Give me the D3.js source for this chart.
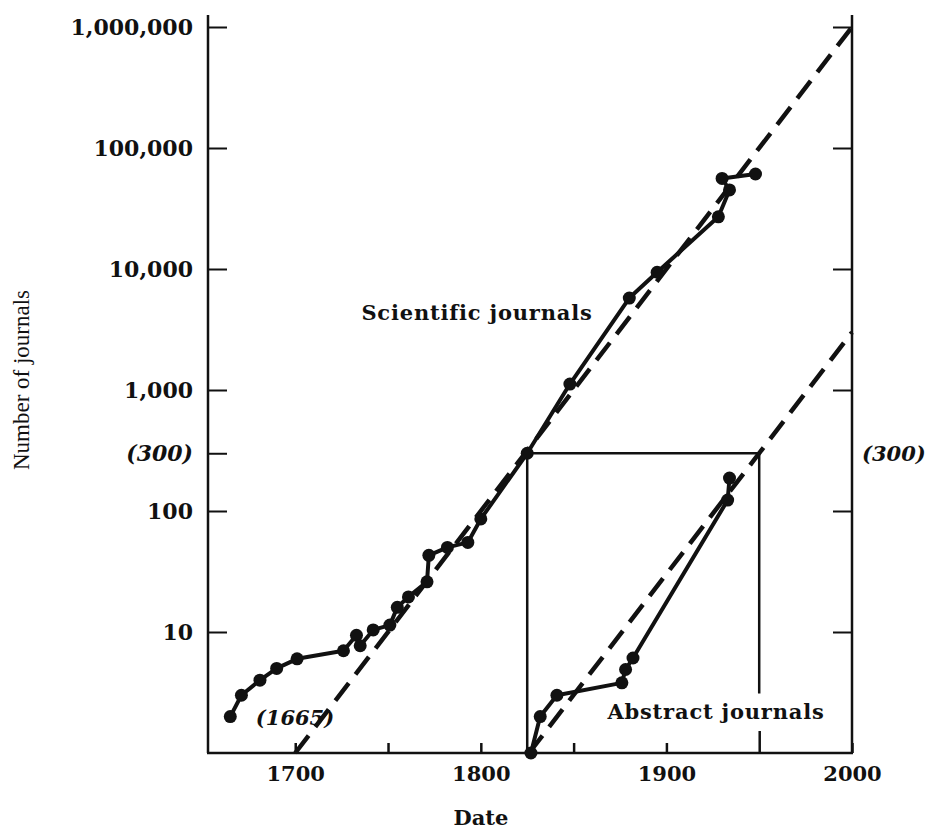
<!DOCTYPE html>
<html>
<head>
<meta charset="UTF-8" />
<title>Number of journals</title>
<script src="https://cdn.jsdelivr.net/npm/d3@7"></script>
<style>
  body { margin: 0; background: #fff; }
  text { font-family: "DejaVu Serif", serif; fill: #111; }
</style>
</head>
<body>
<svg id="chart"></svg>
<script>
// values
const sciYears  = [1665, 1671, 1681, 1690, 1701, 1726, 1733, 1735, 1742, 1751, 1755, 1761, 1771, 1772, 1782, 1793, 1800, 1825, 1848, 1880, 1895, 1928, 1934, 1930, 1948];
const sciCounts = [2, 3, 4, 5, 6, 7, 9.4, 7.7, 10.4, 11.4, 16, 19.5, 26, 43, 50, 55, 86, 300, 1120, 5750, 9400, 27000, 45000, 56000, 61000];

const absYears  = [1827, 1832, 1841, 1876, 1878, 1882, 1933, 1934];
const absCounts = [1, 2, 3, 3.8, 4.9, 6.1, 123, 187];

// dashed trend lines (end points)
const sciTrend = [[1700, 1], [2000, 1000000]];
const absTrend = [[1826, 1], [2000, 3000]];

// the 300 box
const boxPts = [[1825, 1], [1825, 300], [1950, 300], [1950, 3.1]];

const yTicks = [10, 100, 300, 1000, 10000, 100000, 1000000];
const yTickLabels = ["10", "100", "(300)", "1,000", "10,000", "100,000", "1,000,000"];
const xTicks = [1700, 1750, 1800, 1850, 1900, 1950, 2000];
const xTickLabels = ["1700", "", "1800", "", "1900", "", "2000"];

const width = 931, height = 829;
const svg = d3.select("#chart").attr("width", width).attr("height", height);

const x = d3.scaleLinear().domain([1653, 2000]).range([208, 852]);
const y = d3.scaleLog().domain([1, 1000000]).range([753, 27]);

// axis frame lines
svg.append("line").attr("x1", 208).attr("x2", 208).attr("y1", y(1)).attr("y2", 15)
   .attr("stroke", "#111").attr("stroke-width", 2.5);
svg.append("line").attr("x1", x(2000)).attr("x2", x(2000)).attr("y1", y(1)).attr("y2", 15)
   .attr("stroke", "#111").attr("stroke-width", 2.5);
svg.append("line").attr("x1", 207).attr("x2", x(2000) + 1).attr("y1", y(1)).attr("y2", y(1))
   .attr("stroke", "#111").attr("stroke-width", 2.5);

// left axis
const yAxis = svg.append("g")
  .attr("transform", "translate(208,0)")
  .call(d3.axisLeft(y).tickValues(yTicks)
        .tickFormat((d, i) => yTickLabels[i])
        .tickSizeInner(-19).tickSizeOuter(0).tickPadding(15));
yAxis.select(".domain").remove();
yAxis.selectAll("line").attr("stroke", "#111").attr("stroke-width", 2);
yAxis.selectAll("text")
  .style("font-size", "22px").style("font-weight", "bold")
  .style("font-style", d => d === 300 ? "italic" : "normal")
  .attr("fill", "#111");

// right axis
const yAxisR = svg.append("g")
  .attr("transform", "translate(" + x(2000) + ",0)")
  .call(d3.axisRight(y).tickValues(yTicks)
        .tickFormat(d => d === 300 ? "(300)" : "")
        .tickSizeInner(-19).tickSizeOuter(0).tickPadding(10));
yAxisR.select(".domain").remove();
yAxisR.selectAll(".tick line").attr("stroke", "#111").attr("stroke-width", 2)
  .attr("x2", d => d === 300 ? 0 : -19);
yAxisR.selectAll("text")
  .style("font-size", "21px").style("font-weight", "bold").style("font-style", "italic")
  .attr("fill", "#111");

// bottom axis
const xAxis = svg.append("g")
  .attr("transform", "translate(0," + y(1) + ")")
  .call(d3.axisBottom(x).tickValues(xTicks)
        .tickFormat((d, i) => xTickLabels[i])
        .tickSizeInner(-10).tickSizeOuter(0).tickPadding(13));
xAxis.select(".domain").remove();
xAxis.selectAll(".tick line").attr("stroke", "#111").attr("stroke-width", 2.5)
  .attr("y2", d => d === 1950 ? -22 : -10);
xAxis.selectAll("text")
  .style("font-size", "21px").style("font-weight", "bold").attr("fill", "#111");

// axis titles
svg.append("text")
  .attr("transform", "translate(29,380) rotate(-90)")
  .attr("text-anchor", "middle")
  .style("font-family", "'Liberation Serif', serif")
  .style("font-size", "23px")
  .text("Number of journals");

svg.append("text")
  .attr("x", 481).attr("y", 825)
  .attr("text-anchor", "middle")
  .style("font-size", "21px").style("font-weight", "bold")
  .text("Date");

// 300 box
const line = d3.line().x(d => x(d[0])).y(d => y(d[1]));
svg.append("path").datum(boxPts).attr("d", line)
  .attr("fill", "none").attr("stroke", "#111").attr("stroke-width", 2.5);

// dashed trends
[sciTrend, absTrend].forEach(t => {
  svg.append("path").datum(t).attr("d", line)
    .attr("fill", "none").attr("stroke", "#111")
    .attr("stroke-width", 4.5).attr("stroke-dasharray", "22,11");
});

// data series
function drawSeries(years, counts) {
  const pts = years.map((yr, i) => [yr, counts[i]]);
  svg.append("path").datum(pts).attr("d", line)
    .attr("fill", "none").attr("stroke", "#111").attr("stroke-width", 4)
    .attr("stroke-linejoin", "round");
  svg.append("g").selectAll("circle").data(pts).enter().append("circle")
    .attr("cx", d => x(d[0])).attr("cy", d => y(d[1])).attr("r", 6.5)
    .attr("fill", "#111");
}
drawSeries(sciYears, sciCounts);
drawSeries(absYears, absCounts);

// annotations
svg.append("text").attr("x", 477).attr("y", 320).attr("text-anchor", "middle")
  .style("font-size", "21px").style("font-weight", "600").style("letter-spacing", "0.8px")
  .text("Scientific journals");
svg.append("text").attr("x", 716).attr("y", 719).attr("text-anchor", "middle")
  .style("font-size", "21px").style("font-weight", "600").style("letter-spacing", "0.8px")
  .text("Abstract journals");
svg.append("text").attr("x", 295).attr("y", 725).attr("text-anchor", "middle")
  .style("font-size", "21px").style("font-weight", "bold").style("font-style", "italic")
  .text("(1665)");
</script>
</body>
</html>
